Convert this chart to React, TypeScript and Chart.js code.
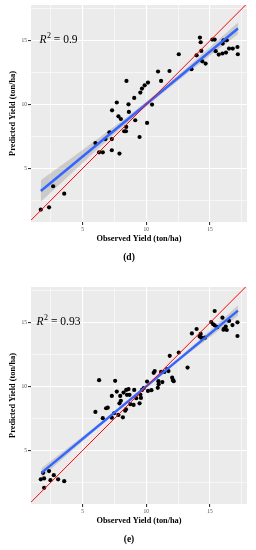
import React, { useEffect, useRef } from 'react';
import { Chart, registerables } from 'chart.js';

Chart.register(...registerables);

// ---- shared axis data ----
const xLimits = [0.94, 17.91];
const yLimits = [0.8, 17.8];
const tickValues = [2.5, 5, 7.5, 10, 12.5, 15, 17.5];
const tickLabels = ['', '5', '', '10', '', '15', ''];
const refLine = [0.94, 17.91];
const xTitle = 'Observed Yield (ton/ha)';
const yTitle = 'Predicted Yield (ton/ha)';

// ---- panel (d) ----
const dObs = [1.71, 2.36, 2.68, 3.55, 6.0, 6.29, 6.58, 6.79, 7.1, 7.29, 7.29, 7.31, 7.68, 7.81, 7.89, 8.0, 8.26, 8.4, 8.42, 8.44, 8.6, 8.63, 9.05, 9.13, 9.47, 9.53, 9.66, 9.87, 10.06, 10.13, 10.45, 10.92, 11.16, 11.82, 12.55, 13.55, 13.95, 14.21, 14.27, 14.32, 14.4, 14.66, 15.19, 15.37, 15.45, 15.69, 15.98, 16.0, 16.06, 16.26, 16.32, 16.5, 16.79, 17.16, 17.19];
const dPred = [1.77, 1.95, 3.6, 3.02, 6.99, 6.26, 6.26, 7.3, 7.83, 7.3, 6.42, 9.55, 10.16, 9.08, 6.16, 8.87, 7.91, 7.91, 8.25, 11.85, 10.02, 9.42, 10.52, 8.77, 7.46, 10.94, 11.25, 11.51, 8.56, 11.72, 10.0, 12.59, 11.85, 12.63, 13.94, 12.77, 13.86, 15.25, 14.88, 14.2, 13.39, 13.21, 15.09, 15.09, 14.18, 13.92, 14.0, 14.78, 15.04, 14.07, 15.04, 14.39, 14.39, 14.51, 13.94];
const dFitX = [1.71, 17.2];
const dFitY = [3.23, 15.96];
const dBandX = [1.71, 4, 6.5, 9, 11.5, 14, 17.2];
const dBandLo = [2.39, 4.51, 6.79, 9.0, 11.08, 13.05, 15.5];
const dBandHi = [4.07, 5.71, 7.55, 9.44, 11.48, 13.61, 16.42];
const dR2 = '0.9';
const dTag = '(d)';

// ---- panel (e) ----
const eObs = [1.71, 1.97, 1.97, 1.89, 2.36, 2.47, 2.73, 3.07, 3.55,
  6.0, 6.29, 6.58, 6.84, 6.97, 7.29, 7.29, 7.47, 7.55, 7.68, 7.81, 7.89, 7.95, 8.0, 8.16, 8.21, 8.34, 8.4, 8.42, 8.48, 8.6, 8.68, 8.74, 9.0, 9.05, 9.21, 9.47, 9.66, 9.79, 10.06, 10.13,
  9.53, 9.58, 10.4, 10.66, 10.58, 10.95, 10.9, 10.97, 11.16, 11.26, 11.42, 11.74, 11.64, 11.84, 12.03, 12.1, 12.15, 12.55, 13.24, 13.58, 13.95, 14.27, 14.19, 14.32, 14.6, 15.1, 15.25, 15.37, 15.37, 15.58, 15.98, 16.06, 16.1, 16.24, 16.32, 16.5, 16.77, 17.16, 17.16];
const ePred = [2.73, 2.8, 2.07, 3.24, 3.38, 2.67, 3.06, 2.73, 2.59,
  8.01, 10.5, 7.52, 8.3, 8.35, 7.56, 9.27, 7.91, 10.45, 9.61, 7.78, 8.69, 9.27, 8.88, 7.59, 9.53, 8.11, 8.22, 9.74, 9.35, 9.8, 9.35, 8.62, 8.56, 9.74, 9.09, 8.69, 9.74, 9.87, 10.39, 9.66,
  9.37, 9.11, 9.72, 11.21, 11.08, 10.42, 9.9, 10.19, 11.15, 10.35, 11.15, 11.21, 11.37, 12.41, 10.7, 10.5, 10.42, 12.67, 11.49, 14.16, 14.51, 14.12, 13.93, 13.83, 13.83, 15.06, 14.88, 14.8, 15.92, 14.66, 15.4, 14.45, 14.53, 14.69, 14.43, 15.14, 14.82, 15.03, 13.96];
const eFitX = [1.76, 17.2];
const eFitY = [3.24, 15.95];
const eBandX = [1.76, 4, 6.5, 9, 11.5, 14, 17.2];
const eBandLo = [2.88, 4.84, 7.0, 9.1, 11.16, 13.11, 15.55];
const eBandHi = [3.6, 5.32, 7.28, 9.3, 11.36, 13.51, 16.35];
const eR2 = '0.93';
const eTag = '(e)';

// label anchor (data coordinates) for the R^2 annotation
const r2Anchor = [3.08, 15.15];

const SERIF = '"Liberation Serif", "Times New Roman", serif';

const decoPlugin = {
  id: 'panelDeco',
  beforeDraw(chart: any) {
    const { ctx, chartArea: a } = chart;
    ctx.save();
    ctx.fillStyle = '#EBEBEB';
    ctx.fillRect(a.left, a.top, a.right - a.left, a.bottom - a.top);
    ctx.restore();
  },
  afterDraw(chart: any, _args: any, opts: any) {
    const { ctx } = chart;
    const cx = chart.scales.x.getPixelForValue(r2Anchor[0]);
    const cy = chart.scales.y.getPixelForValue(r2Anchor[1]);
    ctx.save();
    ctx.fillStyle = '#000000';
    ctx.textBaseline = 'alphabetic';
    ctx.textAlign = 'left';
    const fItal = `italic 11.5px ${SERIF}`;
    const fSup = `8px ${SERIF}`;
    const fMain = `11.5px ${SERIF}`;
    const rest = ' = ' + opts.r2;
    ctx.font = fItal;
    const wR = ctx.measureText('R').width;
    ctx.font = fSup;
    const w2 = ctx.measureText('2').width;
    ctx.font = fMain;
    const wRest = ctx.measureText(rest).width;
    let x = cx - (wR + w2 + wRest) / 2;
    const base = cy + 3.8;
    ctx.font = fItal;
    ctx.fillText('R', x, base);
    x += wR + 0.5;
    ctx.font = fSup;
    ctx.fillText('2', x, base - 5);
    x += w2;
    ctx.font = fMain;
    ctx.fillText(rest, x, base);

    ctx.font = `bold 9.5px ${SERIF}`;
    ctx.textAlign = 'center';
    ctx.textBaseline = 'middle';
    ctx.fillText(opts.tag, chart.width / 2 + 1, 258);
    ctx.restore();
  },
};

function makeScale(limits: number[], title: string, isX: boolean) {
  return {
    type: 'linear',
    min: limits[0],
    max: limits[1],
    afterBuildTicks: (s: any) => {
      s.ticks = tickValues.map((v) => ({ value: v }));
    },
    afterFit: (s: any) => {
      if (isX) s.height = 60;
      else s.width = 31;
    },
    ticks: {
      autoSkip: false,
      maxRotation: 0,
      minRotation: 0,
      padding: 1,
      color: '#4D4D4D',
      font: { family: SERIF, size: 5.5 },
      callback: (_v: any, i: number) => tickLabels[i],
    },
    grid: {
      color: '#FFFFFF',
      lineWidth: (c: any) => (tickLabels[c.index] ? 1.1 : 0.55),
      tickColor: (c: any) => (tickLabels[c.index] ? '#333333' : 'rgba(0,0,0,0)'),
      tickLength: 3,
      drawTicks: true,
    },
    border: { display: false },
    title: {
      display: true,
      text: title,
      color: '#000000',
      font: { family: SERIF, size: 8.3, weight: 'bold' },
      padding: isX ? { top: 0, bottom: 38 } : { top: 8, bottom: 0 },
    },
  };
}

type PanelProps = {
  top: number;
  obs: number[];
  pred: number[];
  fitX: number[];
  fitY: number[];
  bandX: number[];
  bandLo: number[];
  bandHi: number[];
  r2: string;
  tag: string;
};

function Panel(p: PanelProps) {
  const ref = useRef<HTMLCanvasElement | null>(null);
  useEffect(() => {
    if (!ref.current) return;
    const chart = new Chart(ref.current, {
      type: 'line',
      data: {
        datasets: [
          {
            data: refLine.map((v) => ({ x: v, y: v })),
            borderColor: '#FF0000',
            borderWidth: 1,
            pointRadius: 0,
            fill: false,
          },
          {
            data: p.fitX.map((x, i) => ({ x, y: p.fitY[i] })),
            borderColor: '#3366FF',
            borderWidth: 2.5,
            pointRadius: 0,
            fill: false,
          },
          {
            data: p.obs.map((x, i) => ({ x, y: p.pred[i] })),
            showLine: false,
            pointRadius: 2.1,
            pointBackgroundColor: '#000000',
            pointBorderWidth: 0,
            borderColor: '#000000',
          },
          {
            data: p.bandX.map((x, i) => ({ x, y: p.bandHi[i] })),
            borderWidth: 0,
            borderColor: 'rgba(0,0,0,0)',
            pointRadius: 0,
            tension: 0.35,
            fill: '+1',
            backgroundColor: 'rgba(153,153,153,0.4)',
          },
          {
            data: p.bandX.map((x, i) => ({ x, y: p.bandLo[i] })),
            borderWidth: 0,
            borderColor: 'rgba(0,0,0,0)',
            pointRadius: 0,
            tension: 0.35,
            fill: false,
          },
        ],
      },
      options: {
        responsive: false,
        animation: false,
        events: [],
        layout: { padding: { left: 0, top: 5, right: 9, bottom: 0 } },
        plugins: {
          legend: { display: false },
          tooltip: { enabled: false },
          panelDeco: { r2: p.r2, tag: p.tag },
        } as any,
        scales: {
          x: makeScale(xLimits, xTitle, true) as any,
          y: makeScale(yLimits, yTitle, false) as any,
        },
      },
      plugins: [decoPlugin],
    });
    return () => chart.destroy();
  }, []);
  return (
    <canvas
      ref={ref}
      width={256}
      height={282}
      style={{ position: 'absolute', left: 0, top: p.top, width: 256, height: 282, display: 'block' }}
    />
  );
}

export default function App() {
  return (
    <div style={{ position: 'absolute', left: 0, top: 0, width: 256, height: 550, overflow: 'hidden', background: '#FFFFFF' }}>
      <Panel top={0} obs={dObs} pred={dPred} fitX={dFitX} fitY={dFitY} bandX={dBandX} bandLo={dBandLo} bandHi={dBandHi} r2={dR2} tag={dTag} />
      <Panel top={282} obs={eObs} pred={ePred} fitX={eFitX} fitY={eFitY} bandX={eBandX} bandLo={eBandLo} bandHi={eBandHi} r2={eR2} tag={eTag} />
    </div>
  );
}
